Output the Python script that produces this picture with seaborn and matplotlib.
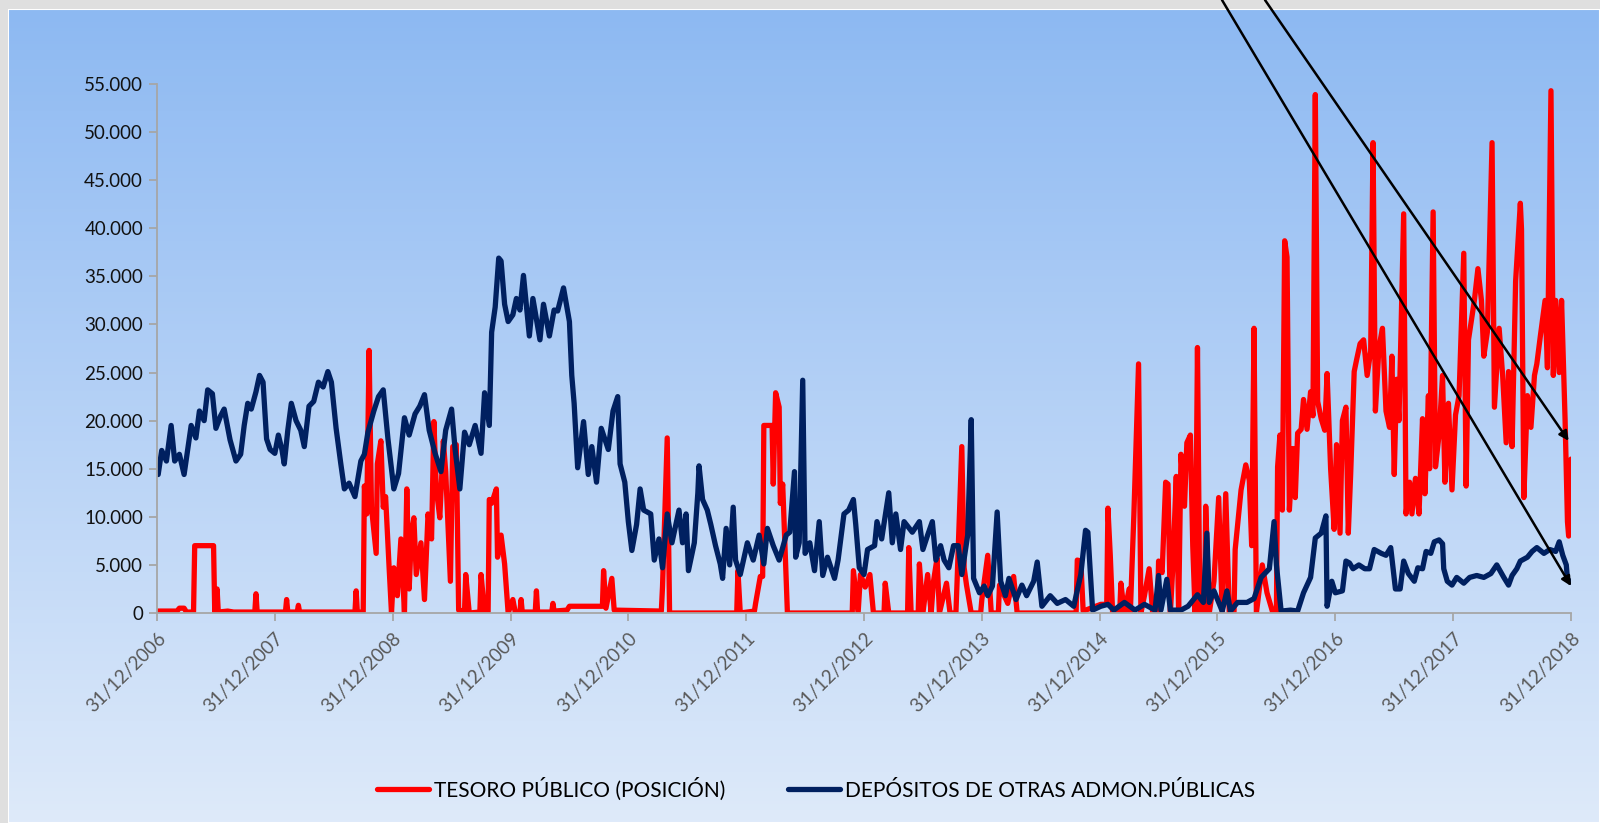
import numpy as np
import pandas as pd
import matplotlib
matplotlib.use("Agg")
import matplotlib.pyplot as plt
from matplotlib.patches import Rectangle
import seaborn as sns

# series names (legend order)
SERIES = ["TESORO PÚBLICO (POSICIÓN)", "DEPÓSITOS DE OTRAS ADMON.PÚBLICAS"]
COLORS = ["#FF0000", "#002060"]

# TESORO PÚBLICO: time as decimal year (2007.0 = 31/12/2006), values in thousands
red_t = [2007.00, 2007.17, 2007.19, 2007.23, 2007.25, 2007.31, 2007.32, 2007.48, 2007.49, 2007.51,
         2007.52, 2007.60, 2007.65, 2007.83, 2007.84, 2007.85, 2007.95, 2008.09, 2008.10, 2008.11,
         2008.19, 2008.20, 2008.21, 2008.40, 2008.55, 2008.68, 2008.69, 2008.70, 2008.75, 2008.76,
         2008.78, 2008.80, 2008.82, 2008.86, 2008.87, 2008.90, 2008.92, 2008.94, 2008.97, 2008.99,
         2009.01, 2009.04, 2009.07, 2009.10, 2009.12, 2009.14, 2009.16, 2009.18, 2009.20, 2009.24,
         2009.27, 2009.30, 2009.33, 2009.35, 2009.37, 2009.40, 2009.43, 2009.45, 2009.49, 2009.51,
         2009.54, 2009.56, 2009.61, 2009.62, 2009.65, 2009.74, 2009.75, 2009.78, 2009.81, 2009.82,
         2009.84, 2009.88, 2009.89, 2009.92, 2009.95, 2009.98, 2010.02, 2010.04, 2010.08, 2010.09,
         2010.10, 2010.21, 2010.22, 2010.23, 2010.35, 2010.36, 2010.37, 2010.48, 2010.50, 2010.78,
         2010.79, 2010.81, 2010.86, 2010.88, 2011.28, 2011.29, 2011.33, 2011.35, 2011.92, 2011.93,
         2011.95, 2012.07, 2012.08, 2012.12, 2012.14, 2012.15, 2012.22, 2012.23, 2012.25, 2012.28,
         2012.29, 2012.31, 2012.35, 2012.90, 2012.91, 2012.95, 2012.97, 2013.01, 2013.05, 2013.08,
         2013.17, 2013.18, 2013.21, 2013.37, 2013.38, 2013.40, 2013.46, 2013.47, 2013.50, 2013.54,
         2013.57, 2013.59, 2013.62, 2013.64, 2013.70, 2013.73, 2013.78, 2013.79, 2013.83, 2013.85,
         2013.87, 2013.91, 2013.99, 2014.00, 2014.05, 2014.08, 2014.14, 2014.15, 2014.22, 2014.27,
         2014.30, 2014.80, 2014.81, 2014.84, 2014.86, 2015.01, 2015.06, 2015.07, 2015.09, 2015.11,
         2015.17, 2015.18, 2015.21, 2015.25, 2015.26, 2015.29, 2015.33, 2015.35, 2015.38, 2015.42,
         2015.45, 2015.49, 2015.50, 2015.53, 2015.56, 2015.58, 2015.60, 2015.62, 2015.65, 2015.67,
         2015.69, 2015.72, 2015.74, 2015.77, 2015.79, 2015.81, 2015.83, 2015.85, 2015.89, 2015.90,
         2015.93, 2015.97, 2016.01, 2016.04, 2016.07, 2016.10, 2016.14, 2016.15, 2016.20, 2016.24,
         2016.27, 2016.29, 2016.31, 2016.33, 2016.38, 2016.42, 2016.47, 2016.50, 2016.51, 2016.53,
         2016.55, 2016.57, 2016.59, 2016.61, 2016.64, 2016.66, 2016.68, 2016.71, 2016.73, 2016.76,
         2016.79, 2016.81, 2016.83, 2016.85, 2016.88, 2016.91, 2016.93, 2016.96, 2016.99, 2017.01,
         2017.04, 2017.06, 2017.09, 2017.11, 2017.13, 2017.16, 2017.18, 2017.21, 2017.24, 2017.27,
         2017.30, 2017.32, 2017.34, 2017.37, 2017.40, 2017.43, 2017.46, 2017.48, 2017.50, 2017.52,
         2017.54, 2017.58, 2017.60, 2017.63, 2017.65, 2017.68, 2017.71, 2017.74, 2017.76, 2017.79,
         2017.80, 2017.83, 2017.85, 2017.88, 2017.91, 2017.93, 2017.96, 2017.99, 2018.02, 2018.05,
         2018.09, 2018.11, 2018.13, 2018.18, 2018.21, 2018.24, 2018.26, 2018.29, 2018.33, 2018.35,
         2018.39, 2018.42, 2018.45, 2018.47, 2018.50, 2018.53, 2018.57, 2018.58, 2018.60, 2018.63,
         2018.66, 2018.69, 2018.71, 2018.74, 2018.78, 2018.80, 2018.83, 2018.85, 2018.87, 2018.90,
         2018.92, 2018.95, 2018.97, 2018.98, 2019.00]
red_v = [0.2, 0.2, 0.5, 0.5, 0.1, 0.1, 7.0, 7.0, 0.1, 2.5,
         0.1, 0.2, 0.1, 0.1, 2.0, 0.1, 0.1, 0.1, 1.4, 0.1,
         0.1, 0.8, 0.1, 0.1, 0.1, 0.1, 2.3, 0.1, 0.1, 13.2,
         10.3, 27.3, 11.0, 6.2, 15.5, 17.9, 11.0, 12.1, 4.7, 0.0,
         4.7, 1.8, 7.7, 0.0, 12.9, 2.5, 8.4, 9.9, 4.0, 7.3,
         1.4, 10.3, 7.7, 19.9, 12.9, 9.9, 17.9, 14.7, 3.3, 17.3,
         17.5, 0.3, 0.2, 4.0, 0.0, 0.1, 4.0, 0.1, 0.1, 11.8,
         11.4, 12.9, 5.8, 8.1, 5.1, 0.0, 1.4, 0.1, 0.1, 1.4,
         0.1, 0.1, 2.3, 0.1, 0.1, 1.0, 0.2, 0.3, 0.7, 0.7,
         4.4, 0.5, 3.6, 0.3, 0.2, 2.7, 18.2, 0.0, 0.0, 4.4,
         0.0, 0.2, 1.0, 3.8, 3.8, 19.5, 19.5, 13.4, 22.9, 21.4,
         11.4, 13.4, 0.0, 0.0, 4.4, 0.0, 4.0, 2.7, 4.0, 0.0,
         0.0, 3.1, 0.0, 0.0, 6.8, 0.0, 0.0, 5.1, 0.0, 4.0,
         0.0, 3.3, 5.7, 0.0, 3.1, 0.0, 0.0, 3.3, 17.3, 4.7,
         2.9, 0.0, 0.0, 1.4, 6.0, 0.0, 0.0, 2.9, 1.0, 3.8,
         0.0, 0.0, 5.5, 5.4, 0.2, 0.9, 0.9, 10.9, 6.0, 0.0,
         0.0, 3.1, 0.0, 2.5, 0.0, 10.1, 25.9, 0.0, 1.8, 4.6,
         0.0, 0.0, 5.4, 4.2, 13.6, 13.4, 0.0, 4.6, 14.2, 0.0,
         16.5, 11.1, 17.7, 18.5, 7.0, 0.0, 27.6, 0.0, 0.0, 11.1,
         0.0, 3.3, 12.0, 0.0, 12.4, 0.0, 0.0, 6.6, 12.8, 15.4,
         13.8, 7.0, 29.6, 0.0, 5.0, 2.1, 0.0, 0.0, 15.2, 18.5,
         10.7, 38.7, 37.0, 10.7, 17.1, 12.0, 18.7, 19.1, 22.2, 19.1,
         23.0, 20.5, 53.9, 22.0, 20.2, 19.0, 24.9, 15.0, 8.7, 17.5,
         8.3, 20.0, 21.4, 8.3, 14.4, 25.1, 26.3, 28.0, 28.4, 24.7,
         27.2, 48.9, 21.0, 27.6, 29.6, 21.0, 19.3, 26.7, 14.4, 24.3,
         20.0, 41.5, 10.3, 13.6, 10.3, 14.0, 10.3, 20.2, 12.4, 22.6,
         15.0, 41.7, 15.2, 18.5, 24.7, 13.6, 21.8, 12.8, 20.6, 22.6,
         37.4, 13.2, 28.4, 32.5, 35.8, 32.5, 26.7, 29.2, 48.9, 21.4,
         29.6, 24.7, 17.7, 25.1, 17.3, 34.5, 42.6, 39.9, 12.0, 22.6,
         19.3, 24.7, 25.9, 28.8, 32.5, 25.5, 54.3, 24.7, 32.5, 25.0,
         32.5, 20.0, 9.5, 8.0, 16.0]

# DEPÓSITOS DE OTRAS ADMON.PÚBLICAS
navy_t = [2007.00, 2007.01, 2007.04, 2007.08, 2007.12, 2007.15, 2007.19, 2007.23, 2007.29, 2007.33,
          2007.36, 2007.40, 2007.43, 2007.47, 2007.50, 2007.54, 2007.57, 2007.62, 2007.67, 2007.71,
          2007.74, 2007.77, 2007.80, 2007.84, 2007.87, 2007.90, 2007.93, 2007.96, 2008.00, 2008.03,
          2008.06, 2008.08, 2008.11, 2008.14, 2008.18, 2008.22, 2008.25, 2008.29, 2008.33, 2008.37,
          2008.41, 2008.45, 2008.48, 2008.52, 2008.56, 2008.59, 2008.63, 2008.68, 2008.73, 2008.76,
          2008.79, 2008.84, 2008.88, 2008.92, 2008.96, 2009.01, 2009.05, 2009.10, 2009.14, 2009.19,
          2009.23, 2009.27, 2009.31, 2009.36, 2009.41, 2009.45, 2009.50, 2009.53, 2009.57, 2009.61,
          2009.65, 2009.70, 2009.75, 2009.78, 2009.82, 2009.84, 2009.87, 2009.90, 2009.92, 2009.95,
          2009.98, 2010.02, 2010.05, 2010.08, 2010.11, 2010.16, 2010.19, 2010.25, 2010.28, 2010.33,
          2010.37, 2010.40, 2010.45, 2010.50, 2010.52, 2010.54, 2010.57, 2010.62, 2010.66, 2010.69,
          2010.73, 2010.77, 2010.83, 2010.87, 2010.91, 2010.93, 2010.97, 2011.00, 2011.03, 2011.07,
          2011.10, 2011.13, 2011.19, 2011.22, 2011.26, 2011.29, 2011.33, 2011.37, 2011.43, 2011.46,
          2011.49, 2011.51, 2011.56, 2011.59, 2011.60, 2011.63, 2011.67, 2011.70, 2011.74, 2011.78,
          2011.80, 2011.83, 2011.86, 2011.89, 2011.91, 2011.95, 2012.01, 2012.06, 2012.11, 2012.15,
          2012.18, 2012.23, 2012.28, 2012.34, 2012.37, 2012.41, 2012.42, 2012.45, 2012.48, 2012.50,
          2012.54, 2012.58, 2012.62, 2012.65, 2012.69, 2012.75, 2012.78, 2012.83, 2012.87, 2012.91,
          2012.93, 2012.96, 2013.00, 2013.03, 2013.09, 2013.11, 2013.15, 2013.21, 2013.24, 2013.27,
          2013.31, 2013.34, 2013.41, 2013.47, 2013.50, 2013.54, 2013.58, 2013.61, 2013.65, 2013.68,
          2013.72, 2013.76, 2013.80, 2013.83, 2013.88, 2013.91, 2013.93, 2013.98, 2014.02, 2014.05,
          2014.09, 2014.13, 2014.16, 2014.20, 2014.23, 2014.29, 2014.34, 2014.38, 2014.44, 2014.47,
          2014.51, 2014.58, 2014.64, 2014.71, 2014.78, 2014.84, 2014.88, 2014.90, 2014.94, 2015.01,
          2015.07, 2015.12, 2015.21, 2015.30, 2015.38, 2015.47, 2015.50, 2015.52, 2015.57, 2015.60,
          2015.69, 2015.75, 2015.83, 2015.88, 2015.91, 2015.93, 2015.97, 2016.04, 2016.08, 2016.11,
          2016.17, 2016.25, 2016.31, 2016.37, 2016.44, 2016.46, 2016.48, 2016.50, 2016.54, 2016.62,
          2016.68, 2016.73, 2016.79, 2016.83, 2016.88, 2016.92, 2016.93, 2016.97, 2017.00, 2017.06,
          2017.09, 2017.12, 2017.15, 2017.20, 2017.25, 2017.29, 2017.33, 2017.39, 2017.43, 2017.47,
          2017.51, 2017.55, 2017.58, 2017.62, 2017.67, 2017.70, 2017.74, 2017.77, 2017.81, 2017.84,
          2017.88, 2017.91, 2017.92, 2017.95, 2017.99, 2018.03, 2018.09, 2018.14, 2018.20, 2018.26,
          2018.32, 2018.37, 2018.43, 2018.47, 2018.50, 2018.54, 2018.57, 2018.63, 2018.67, 2018.71,
          2018.77, 2018.82, 2018.87, 2018.90, 2018.93, 2018.96, 2018.97, 2019.00]
navy_v = [14.4, 14.4, 16.9, 15.8, 19.5, 15.8, 16.5, 14.4, 19.5, 18.2,
          21.0, 20.0, 23.2, 22.8, 19.2, 20.5, 21.2, 18.0, 15.8, 16.5,
          19.5, 21.8, 21.2, 23.0, 24.7, 24.0, 18.1, 17.0, 16.6, 18.5,
          17.0, 15.5, 19.0, 21.8, 20.0, 19.0, 17.3, 21.5, 22.0, 24.0,
          23.5, 25.1, 24.0, 19.2, 15.5, 12.9, 13.5, 12.1, 15.8, 16.5,
          18.8, 21.0, 22.5, 23.2, 18.1, 12.9, 14.5, 20.3, 18.5, 20.7,
          21.5, 22.7, 19.0, 16.6, 14.7, 19.0, 21.2, 17.0, 12.9, 18.8,
          17.5, 19.5, 16.6, 22.9, 19.5, 29.2, 31.8, 36.9, 36.6, 32.1,
          30.3, 31.0, 32.7, 31.5, 35.1, 28.8, 32.7, 28.4, 32.1, 28.8,
          31.5, 31.4, 33.8, 30.3, 24.7, 21.8, 15.1, 19.9, 14.4, 17.3,
          13.6, 19.2, 17.0, 21.0, 22.5, 15.5, 13.6, 9.5, 6.5, 9.2,
          12.9, 10.7, 10.3, 5.5, 7.7, 4.7, 10.3, 7.3, 10.7, 7.3,
          10.3, 4.4, 7.3, 12.5, 15.3, 11.8, 10.7, 9.2, 7.0, 5.1,
          3.6, 8.8, 5.0, 11.0, 5.5, 4.0, 7.3, 5.5, 8.1, 5.1,
          8.8, 7.0, 5.5, 8.1, 8.4, 14.7, 5.8, 7.3, 24.2, 6.2,
          7.3, 4.4, 9.5, 3.9, 5.8, 3.6, 5.5, 10.3, 10.7, 11.8,
          9.2, 4.7, 4.0, 6.6, 7.0, 9.5, 7.7, 12.5, 7.3, 10.3,
          6.6, 9.5, 8.4, 9.5, 6.6, 8.1, 9.5, 5.5, 7.0, 5.5,
          4.7, 7.0, 7.0, 4.0, 8.1, 20.1, 3.6, 2.1, 2.8, 1.8,
          2.8, 10.5, 3.3, 1.8, 3.6, 1.4, 2.9, 1.8, 3.3, 5.3,
          0.7, 1.8, 1.0, 1.4, 0.7, 4.0, 8.6, 8.4, 0.3, 0.7,
          0.9, 0.3, 1.1, 0.3, 0.9, 0.3, 3.9, 0.3, 3.5, 0.3,
          0.3, 0.7, 1.9, 1.1, 8.3, 1.1, 2.3, 0.2, 2.3, 0.2,
          1.1, 1.1, 1.5, 3.7, 4.6, 7.0, 9.5, 5.0, 0.2, 0.3,
          0.2, 2.1, 3.7, 7.8, 8.3, 10.1, 0.7, 3.3, 2.1, 2.3,
          5.4, 5.2, 4.6, 5.0, 4.6, 4.6, 6.6, 6.2, 6.0, 6.8,
          2.5, 2.5, 5.4, 4.1, 3.3, 4.7, 4.6, 6.4, 6.2, 7.4,
          7.6, 7.2, 4.6, 3.3, 2.9, 3.7, 3.1, 3.7, 3.9, 3.7,
          4.1, 5.0, 3.7, 2.9, 3.9, 4.6, 5.4, 5.8, 6.4, 6.8,
          6.2, 6.6, 6.4, 7.4, 6.0, 5.0, 3.5, 3.2]

# where the two annotation arrows point (decimal year, thousands)
arrow_red_tip = (2018.98, 17.9)
arrow_navy_tip = (2019.00, 2.8)

y_ticks = list(range(0, 55001, 5000))
tick_years = list(range(2006, 2019))


def to_date(t):
    # 2007.0 -> 31/12/2006
    return pd.Timestamp("2006-12-31") + pd.to_timedelta((np.asarray(t) - 2007.0) * 365.25, unit="D")


df = pd.concat([
    pd.DataFrame({"fecha": to_date(red_t), "valor": np.array(red_v) * 1000, "serie": SERIES[0]}),
    pd.DataFrame({"fecha": to_date(navy_t), "valor": np.array(navy_v) * 1000, "serie": SERIES[1]}),
])

plt.rcParams["font.family"] = ["Lato", "DejaVu Sans"]
plt.rcParams["lines.solid_joinstyle"] = "round"
plt.rcParams["lines.solid_capstyle"] = "round"

fig = plt.figure(figsize=(16, 8.23), dpi=100)
fig.patch.set_facecolor("#DFDFDF")

# gradient background panel
W, H = 1600, 823
bg = fig.add_axes([8 / W, 0, 1 - 8 / W, 1 - 9 / H])
grad = np.linspace(0, 1, 256)[:, None]
top = np.array([141, 185, 242]) / 255
bot = np.array([222, 234, 250]) / 255
img = top[None, None, :] * (1 - grad[:, :, None]) + bot[None, None, :] * grad[:, :, None]
bg.imshow(img, aspect="auto", extent=[0, 1, 0, 1])
bg.set_axis_off()
bg.add_patch(Rectangle((0, 0), 1, 1, fill=False, edgecolor="white", lw=1.5, transform=bg.transAxes))

ax = fig.add_axes([157 / W, 1 - 613 / H, (1571 - 157) / W, (613 - 84) / H])
ax.patch.set_alpha(0)

sns.lineplot(data=df, x="fecha", y="valor", hue="serie", hue_order=SERIES,
             palette=COLORS, estimator=None, sort=False, linewidth=3.8, legend=False, ax=ax)

ax.set_xlim(pd.Timestamp("2006-12-31"), pd.Timestamp("2018-12-31"))
ax.set_ylim(0, 55000)
ax.set_xlabel("")
ax.set_ylabel("")

ax.set_yticks(y_ticks)
ax.set_yticklabels([f"{v:,.0f}".replace(",", ".") for v in y_ticks], fontsize=13.5, color="#111111")
xt = [pd.Timestamp(f"{y}-12-31") for y in tick_years]
ax.set_xticks(xt)
ax.set_xticklabels([d.strftime("%d/%m/%Y") for d in xt], fontsize=13.5, color="#595959",
                   rotation=45, ha="right", rotation_mode="anchor")

for s in ["top", "right"]:
    ax.spines[s].set_visible(False)
for s in ["left", "bottom"]:
    ax.spines[s].set_color("#A6A6A6")
    ax.spines[s].set_linewidth(1.3)
ax.tick_params(axis="both", direction="out", length=6, width=1.3, color="#A6A6A6")
ax.tick_params(axis="y", pad=4)
ax.tick_params(axis="x", pad=6)

# legend at the bottom
handles = ax.get_lines()[:2]
fig.legend(handles, SERIES, loc="center", bbox_to_anchor=(816 / W, 1 - 789 / H), ncol=2,
           frameon=False, fontsize=15, handlelength=2.5, handletextpad=0.25, columnspacing=3.0)

# the two hand-drawn arrows
for tip, start_x in [(arrow_red_tip, 1265), (arrow_navy_tip, 1222)]:
    ax.annotate("", xy=(to_date(tip[0]), tip[1] * 1000), xycoords="data",
                xytext=(start_x / W, 1.0), textcoords="figure fraction",
                arrowprops=dict(arrowstyle="-|>", color="black", lw=1.8, mutation_scale=14,
                                shrinkA=0, shrinkB=0),
                annotation_clip=False)

fig.savefig("out.png", dpi=100)
